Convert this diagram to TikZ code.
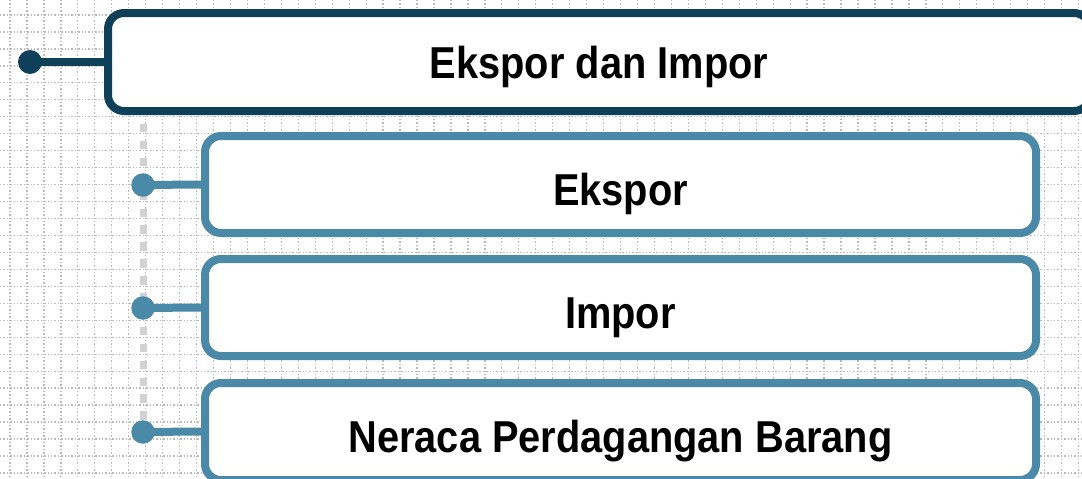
\documentclass[tikz,border=0pt]{standalone}
\usepackage{fontspec}
\newfontfamily\boxfont[FakeStretch=0.89]{Liberation Sans}
\usetikzlibrary{backgrounds}
\definecolor{darkblue}{HTML}{0F4059}
\definecolor{lightblue}{HTML}{4A8AA8}
\definecolor{gridgray}{HTML}{BBBBBB}
\definecolor{dashgray}{HTML}{D2D2D2}
\tikzset{
  gridline/.style={gridgray, line width=1.3pt, dash pattern=on 1.3pt off 2.1pt},
  mainbox/.style={draw=darkblue, fill=white, line width=8pt, rounded corners=16pt,
    minimum width=982pt, minimum height=98pt, inner sep=0pt,
    font=\boxfont\bfseries\fontsize{44.7}{50}\selectfont, text height=32pt, text depth=0pt},
  subbox/.style={draw=lightblue, fill=white, line width=8pt, rounded corners=16pt,
    minimum width=831pt, minimum height=97pt, inner sep=0pt,
    font=\boxfont\bfseries\fontsize{44.7}{50}\selectfont, text height=41pt, text depth=0pt},
  maindot/.style={circle, fill=darkblue, minimum size=24pt, inner sep=0pt},
  subdot/.style={circle, fill=lightblue, minimum size=23.5pt, inner sep=0pt},
  mainlink/.style={darkblue, line width=8pt},
  sublink/.style={lightblue, line width=8pt},
  vline/.style={dashgray, line width=7pt, dash pattern=on 8.4pt off 8.5pt}
}
\begin{document}
\begin{tikzpicture}[x=1pt,y=-1pt]
\useasboundingbox (0,0) rectangle (1082,479);
\clip (0,0) rectangle (1082,479);

\node[mainbox] (main) at (599,62) {Ekspor dan Impor};
\node[subbox] (b1) at (620.5,184.5) {Ekspor};
\node[subbox] (b2) at (620.5,307.5) {Impor};
\node[subbox] (b3) at (620.5,431.5) {Neraca Perdagangan Barang};

\node[maindot] (d0) at (30,62) {};
\node[subdot] (d1) at (143,185) {};
\node[subdot] (d2) at (143,308) {};
\node[subdot] (d3) at (143,432) {};
\coordinate (vtop) at (143,124);

\begin{scope}[on background layer]
  \fill[white] (0,0) rectangle (1082,479);
  \foreach \i in {0,...,63} \draw[gridline] ({10+16.96*\i},0) -- ++(0,479);
  \foreach \j in {0,...,27} \draw[gridline] (0,{15+16.96*\j}) -- ++(1082,0);
  \draw[vline] (vtop) -- (d3.center);
  \draw[mainlink] (d0.center) -- (main.west);
  \draw[sublink] (d1.center) -- (b1.west);
  \draw[sublink] (d2.center) -- (b2.west);
  \draw[sublink] (d3.center) -- (b3.west);
\end{scope}
\end{tikzpicture}
\end{document}
